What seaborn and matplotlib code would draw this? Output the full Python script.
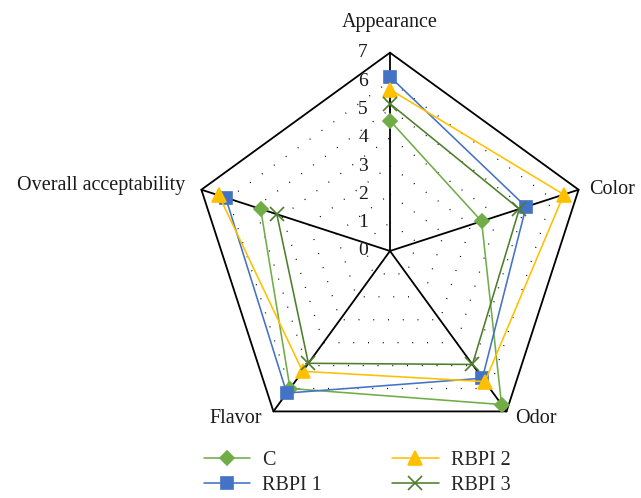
import numpy as np
import pandas as pd
import matplotlib
matplotlib.use("Agg")
import matplotlib.pyplot as plt
import seaborn as sns

categories = ["Appearance", "Color", "Odor", "Flavor", "Overall acceptability"]
series_names = ["C", "RBPI 1", "RBPI 2", "RBPI 3"]
c_vals = [4.6, 3.4, 6.7, 6.0, 4.8]
rbpi1_vals = [6.15, 5.05, 5.55, 6.2, 6.1]
rbpi2_vals = [5.7, 6.45, 5.7, 5.25, 6.35]
rbpi3_vals = [5.2, 4.8, 4.95, 4.9, 4.2]
tick_values = [0, 1, 2, 3, 4, 5, 6, 7]

sns.set_theme(style="white")
plt.rcParams['font.family'] = ['Liberation Serif', 'DejaVu Serif']

fig = plt.figure(figsize=(6.41, 4.98), dpi=100)
ax = fig.add_axes([0.299, 0.0978, 0.6188, 0.7964], projection='polar')
ax.set_theta_offset(np.pi / 2)
ax.set_theta_direction(-1)
ax.set_ylim(0, 7)
ax.grid(False)
ax.spines['polar'].set_visible(False)
ax.set_xticks([])
ax.set_yticks([])
ax.patch.set_alpha(0)

n = len(categories)
theta = np.arange(n) * 2 * np.pi / n
theta_closed = np.append(theta, theta[0])

# grid pentagons
for lv in tick_values[1:-1]:
    ax.plot(theta_closed, [lv] * (n + 1), color='black', lw=0.9,
            linestyle=(0, (0.8, 11)), zorder=1, clip_on=False)
ax.plot(theta_closed, [7] * (n + 1), color='black', lw=1.3, zorder=1, clip_on=False)
for t in theta:
    ax.plot([t, t], [0, 7], color='black', lw=1.3, zorder=1, clip_on=False)

styles = {
    "C": dict(color="#70AD47", marker="D", ms=7),
    "RBPI 1": dict(color="#4472C4", marker="s", ms=8.5),
    "RBPI 2": dict(color="#FFC000", marker="^", ms=10.5),
    "RBPI 3": dict(color="#4E7D2C", marker="x", ms=9.5),
}
all_vals = [c_vals, rbpi1_vals, rbpi2_vals, rbpi3_vals]
for name, vals in zip(series_names, all_vals):
    st = styles[name]
    df = pd.DataFrame({"theta": theta_closed, "r": list(vals) + [vals[0]]})
    sns.lineplot(data=df, x="theta", y="r", sort=False, ax=ax, color=st["color"],
                 lw=1.15, marker=st["marker"], markersize=st["ms"],
                 markeredgecolor=st["color"], markeredgewidth=1.2,
                 label=name, zorder=3, clip_on=False)
ax.set_xlabel("")
ax.set_ylabel("")
ax.set_ylim(0, 7)

# radial tick labels
for v in tick_values:
    ax.annotate(str(v), xy=(0, v), xytext=(-22, 0), textcoords='offset pixels',
                ha='right', va='center', fontsize=14, color='#1a1a1a')

# category labels
offsets = [(0, 30, 'center', 'center'), (11, 0, 'left', 'center'),
           (9, -7, 'left', 'center'), (-11, -7, 'right', 'center'),
           (-16, 4, 'right', 'center')]
for t, lab, (dx, dy, ha, va) in zip(theta, categories, offsets):
    ax.annotate(lab, xy=(t, 7), xytext=(dx, dy), textcoords='offset pixels',
                ha=ha, va=va, fontsize=14.5, color='#1a1a1a')

handles, labels = ax.get_legend_handles_labels()
ax.get_legend().remove()
fig.legend(handles, labels, ncol=2, frameon=False, loc='center',
           bbox_to_anchor=(0.557, 0.05), fontsize=14.5, handlelength=2.3,
           handletextpad=0.6, columnspacing=3.5, labelspacing=0.3)

fig.savefig("out.png", dpi=100)
